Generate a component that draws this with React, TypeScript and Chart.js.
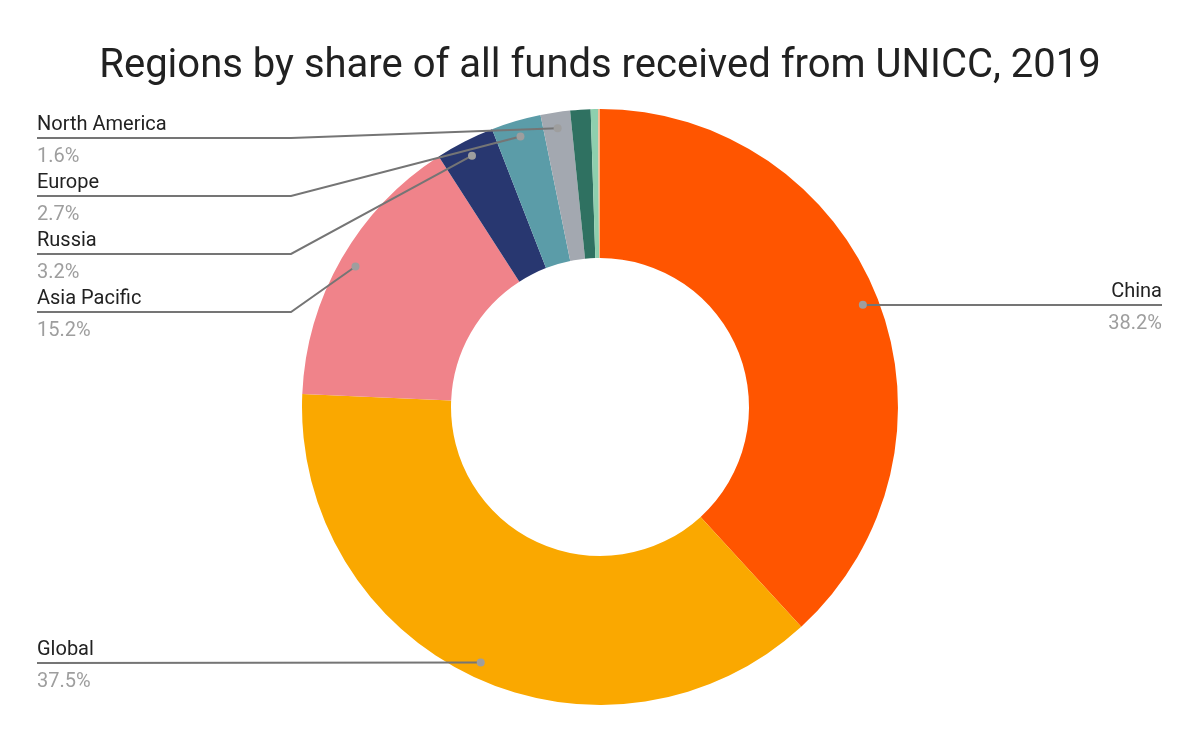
import React, { useEffect, useRef } from "react";
import { Chart, registerables } from "chart.js";

Chart.register(...registerables);

const TITLE = "Regions by share of all funds received from UNICC, 2019";
const categories = ["China", "Global", "Asia Pacific", "Russia", "Europe", "North America", "Other A", "Other B", "Other C"];
const shares = [38.2, 37.5, 15.2, 3.2, 2.7, 1.6, 1.1, 0.4, 0.1];
const valueLabels = ["38.2%", "37.5%", "15.2%", "3.2%", "2.7%", "1.6%", "", "", ""];
const colors = ["#ff5500", "#faa800", "#f0838a", "#283770", "#5b9ca8", "#a3a8b0", "#2f7161", "#8ecfae", "#f7b48a"];

// label layout (styling only)
const labelLayout: Record<number, { side: "left" | "right"; lineY?: number }> = {
  0: { side: "right" },
  1: { side: "left" },
  2: { side: "left", lineY: 312 },
  3: { side: "left", lineY: 254 },
  4: { side: "left", lineY: 196 },
  5: { side: "left", lineY: 138 },
};

const labelPlugin = {
  id: "googleLabels",
  afterDraw(chart: any) {
    const ctx = chart.ctx;
    const meta = chart.getDatasetMeta(0);
    ctx.save();
    // title
    ctx.fillStyle = "#212121";
    ctx.font = "40px Roboto";
    ctx.textAlign = "center";
    ctx.textBaseline = "alphabetic";
    ctx.fillText(TITLE, 600, 77);

    Object.keys(labelLayout).forEach((k) => {
      const i = Number(k);
      const lay = labelLayout[i];
      const arc = meta.data[i];
      const p = arc.getProps(["x", "y", "startAngle", "endAngle", "outerRadius"], true);
      const mid = (p.startAngle + p.endAngle) / 2;
      const r = p.outerRadius - 16;
      const dx = p.x + Math.cos(mid) * r;
      const dy = p.y + Math.sin(mid) * r;
      const lineY = lay.lineY ?? Math.round(dy);
      ctx.strokeStyle = "#757575";
      ctx.lineWidth = 2;
      ctx.beginPath();
      let textX: number;
      if (lay.side === "left") {
        ctx.moveTo(37, lineY);
        if (lay.lineY !== undefined) {
          ctx.lineTo(291, lineY);
        }
        ctx.lineTo(dx, dy);
        textX = 37;
        ctx.textAlign = "left";
      } else {
        ctx.moveTo(dx, lineY);
        ctx.lineTo(1162, lineY);
        textX = 1162;
        ctx.textAlign = "right";
      }
      ctx.stroke();
      ctx.fillStyle = "#9e9e9e";
      ctx.beginPath();
      ctx.arc(dx, dy, 4, 0, Math.PI * 2);
      ctx.fill();

      ctx.font = "20px Roboto";
      ctx.fillStyle = "#222222";
      ctx.fillText(categories[i], textX, lineY - 8);
      ctx.fillStyle = "#9e9e9e";
      ctx.fillText(valueLabels[i], textX, lineY + 24);
    });
    ctx.restore();
  },
};

export default function App() {
  const ref = useRef<HTMLCanvasElement>(null);
  useEffect(() => {
    document.body.style.margin = "0";
    const chart = new Chart(ref.current!, {
      type: "doughnut",
      data: {
        labels: categories,
        datasets: [
          {
            data: shares,
            backgroundColor: colors,
            borderWidth: 0,
          },
        ],
      },
      options: {
        animation: false,
        responsive: false,
        cutout: "50%",
        layout: { padding: { top: 109, bottom: 37, left: 300, right: 300 } },
        plugins: {
          legend: { display: false },
          tooltip: { enabled: false },
          title: { display: false },
        },
      },
      plugins: [labelPlugin],
    });
    return () => chart.destroy();
  }, []);
  return (
    <div style={{ width: 1200, height: 742, background: "#ffffff" }}>
      <canvas ref={ref} width={1200} height={742} style={{ display: "block" }} />
    </div>
  );
}
